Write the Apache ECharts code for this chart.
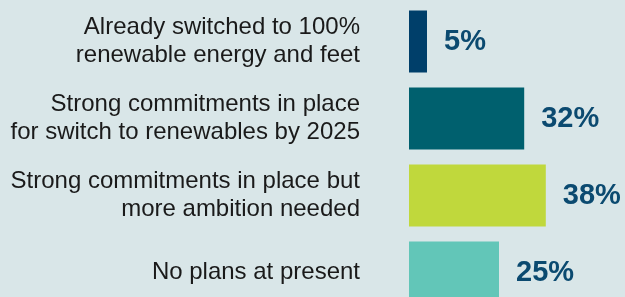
<!DOCTYPE html>
<html>
<head>
<meta charset="utf-8">
<script src="https://cdn.jsdelivr.net/npm/echarts@6/dist/echarts.min.js"></script>
<style>
  html, body {margin: 0; padding: 0; background: #d9e6e8;}
  #chart {width: 625px; height: 297px;}
</style>
</head>
<body>
<div id="chart"></div>
<script>
  // survey answers, top to bottom
  const categories = [
    'Already switched to 100%\nrenewable energy and feet',
    'Strong commitments in place\nfor switch to renewables by 2025',
    'Strong commitments in place but\nmore ambition needed',
    'No plans at present'
  ];
  const shares = [5, 32, 38, 25];

  const barColors = ['#003f6a', '#00606e', '#c0d83c', '#62c6b8'];

  const chart = echarts.init(document.getElementById('chart'));
  chart.setOption({
    backgroundColor: '#d9e6e8',
    animation: false,
    grid: {left: 409, top: 3, width: 360, height: 308, outerBoundsMode: 'none', containLabel: false},
    xAxis: {
      type: 'value',
      min: 0,
      max: 100,
      show: false
    },
    yAxis: {
      type: 'category',
      data: categories,
      inverse: true,
      axisLine: {show: false},
      axisTick: {show: false},
      axisLabel: {
        margin: 49,
        color: '#1a1a1a',
        fontFamily: 'Liberation Sans, Arial, sans-serif',
        fontSize: 24,
        lineHeight: 28,
        align: 'right'
      }
    },
    series: [{
      type: 'bar',
      barWidth: 62,
      data: shares.map((v, i) => ({value: v, itemStyle: {color: barColors[i]}})),
      label: {
        show: true,
        position: 'right',
        distance: 17,
        formatter: '{c}%',
        color: '#0b4a70',
        fontFamily: 'Liberation Sans, Arial, sans-serif',
        fontWeight: 'bold',
        fontSize: 29
      }
    }]
  });
</script>
</body>
</html>
